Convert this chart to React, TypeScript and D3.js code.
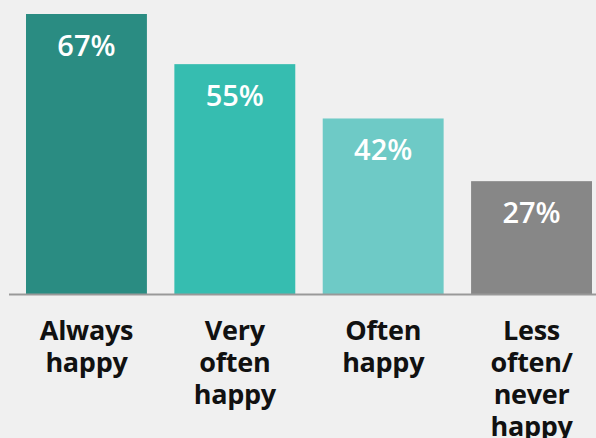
import React from "react";
import * as d3 from "d3";

const categories: string[][] = [
  ["Always", "happy"],
  ["Very", "often", "happy"],
  ["Often", "happy"],
  ["Less", "often/", "never", "happy"],
];
const values: number[] = [67, 55, 42, 27];
const colors: string[] = ["#2a8c82", "#36bdb0", "#6ecac6", "#878787"];

const W = 596;
const H = 438;
const baseY = 294;

export default function App() {
  const x = d3
    .scaleBand<number>()
    .domain(values.map((_, i) => i))
    .range([26, 592])
    .paddingInner(0.185)
    .paddingOuter(0);
  const y = d3.scaleLinear().domain([0, 67]).range([baseY, 14]);
  const font = "'Open Sans', sans-serif";
  return (
    <svg
      width={W}
      height={H}
      style={{ position: "absolute", left: 0, top: 0, display: "block" }}
    >
      <rect x={0} y={0} width={W} height={H} fill="#f0f0f0" />
      {values.map((v, i) => {
        const bx = x(i)!;
        const bw = x.bandwidth();
        const cx = bx + bw / 2;
        return (
          <g key={i}>
            <rect x={bx} y={y(v)} width={bw} height={baseY - y(v)} fill={colors[i]} />
            <text
              x={cx}
              y={y(v) + 42}
              textAnchor="middle"
              fill="#ffffff"
              fontFamily={font}
              fontWeight={600}
              fontSize={29}
            >
              {v}%
            </text>
            {categories[i].map((line, j) => (
              <text
                key={j}
                x={cx}
                y={340 + j * 32}
                textAnchor="middle"
                fill="#111111"
                fontFamily={font}
                fontWeight={700}
                fontSize={27}
                letterSpacing={-0.3}
              >
                {line}
              </text>
            ))}
          </g>
        );
      })}
      <line x1={9} x2={W} y1={baseY + 0.5} y2={baseY + 0.5} stroke="#999999" strokeWidth={2} />
    </svg>
  );
}
